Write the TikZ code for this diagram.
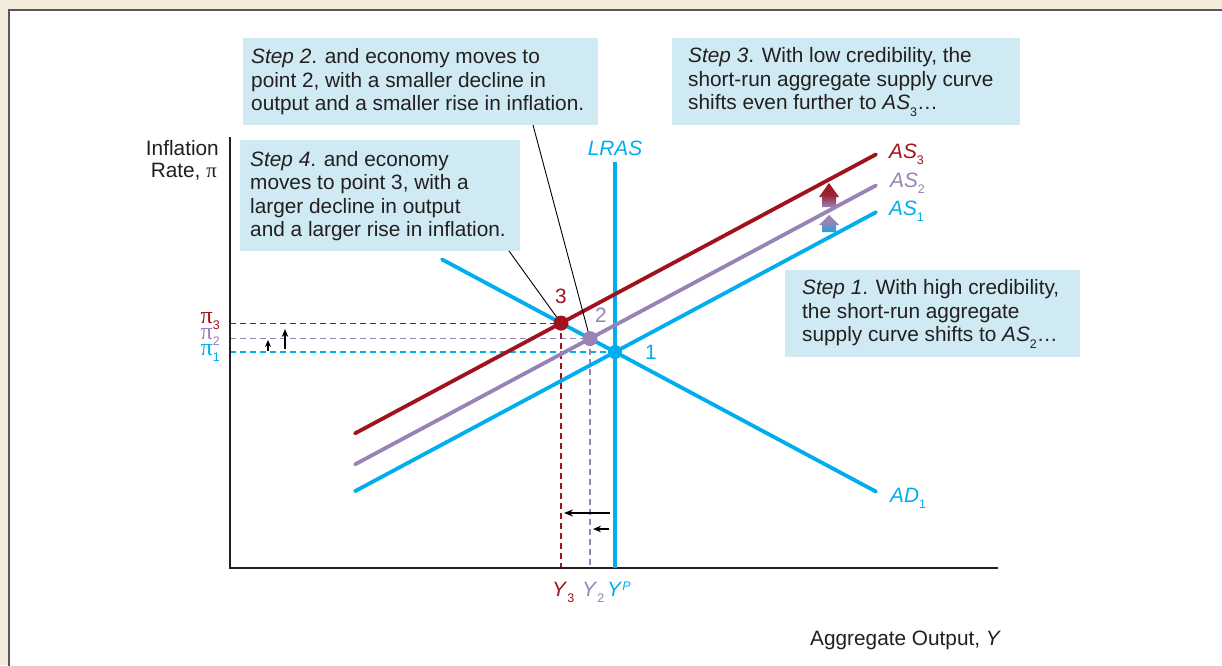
\documentclass[tikz,border=0pt]{standalone}
\usepackage{fontspec}
\setmainfont{Liberation Sans}
\newfontfamily\piserif{Liberation Serif}
\usetikzlibrary{arrows.meta}
\definecolor{cy}{HTML}{00AEEF}
\definecolor{dred}{HTML}{A0121C}
\definecolor{purp}{HTML}{9783B6}
\definecolor{boxblue}{HTML}{CFEAF2}
\definecolor{beige}{HTML}{F3EBDB}
\definecolor{framegray}{HTML}{5B5756}
\definecolor{txt}{HTML}{231F20}
\newcommand\sbs[1]{\raisebox{-6.5pt}{\fontsize{12.5}{12.5}\selectfont #1}}
\newcommand\sps[1]{\raisebox{6pt}{\fontsize{12.5}{12.5}\selectfont #1}}
\newcommand\gpi{{\piserif π}}
\newcommand\bigpi{{\piserif\fontsize{24}{24}\selectfont π}}
\tikzset{
  stepbox/.style={fill=boxblue, anchor=north west, inner sep=0pt},
  steptext/.style={anchor=west, align=left, inner sep=0pt, text=txt},
  curve/.style={line width=3.8pt, line cap=round},
  guide/.style={line width=1.2pt, dash pattern=on 6pt off 4pt},
  leader/.style={line width=0.9pt, draw=black},
  dot/.style={circle, inner sep=0pt, minimum size=15pt},
  shiftarrow/.style={-{Stealth[length=9pt,width=7pt]}, line width=1.6pt, draw=black},
  axisline/.style={line width=1.4pt, draw=txt},
  lab/.style={inner sep=0pt}
}
\begin{document}
\begin{tikzpicture}[x=1pt, y=-1pt, font=\fontsize{20.8}{23.5}\selectfont]
\useasboundingbox (0,0) rectangle (1222,665);
\clip (0,0) rectangle (1222,665);
% frame
\fill[beige] (0,0) rectangle (1222,665);
\fill[white] (8.5,10) rectangle (1240,680);
\draw[framegray, line width=2pt] (8.5,680) -- (8.5,10) -- (1240,10);

% boxes
\node[stepbox, minimum width=355pt, minimum height=87pt] (s2) at (243,38) {};
\node[steptext] (t2) at (251,82) {\textit{Step 2}. and economy moves to\\point 2, with a smaller decline in\\output and a smaller rise in inflation.};
\node[stepbox, minimum width=348pt, minimum height=87pt] (s3) at (672,38) {};
\node[steptext] (t3) at (688,82) {\textit{Step 3}. With low credibility, the\\short-run aggregate supply curve\\shifts even further to \textit{AS}\sbs{3}…};
\node[stepbox, minimum width=280pt, minimum height=111pt] (s4) at (240,140) {};
\node[steptext] (t4) at (250,196) {\textit{Step 4}. and economy\\moves to point 3, with a\\larger decline in output\\and a larger rise in inflation.};
\node[stepbox, minimum width=295pt, minimum height=87pt] (s1) at (785,270) {};
\node[steptext] (t1) at (802,314) {\textit{Step 1}. With high credibility,\\the short-run aggregate\\supply curve shifts to \textit{AS}\sbs{2}…};

% key points
\coordinate (p1) at (615,352);
\coordinate (p2) at (590,338.6);
\coordinate (p3) at (561,323.1);
\coordinate (yo) at (230,568);
\coordinate (ytop) at (230,137);
\coordinate (xend) at (998,568);

% guides
\draw[guide, dred] (230,323.1) -- (p3);
\draw[guide, purp] (230,338.6) -- (p2);
\draw[guide, cy] (230,352) -- (p1);
\draw[guide, dred] (p3) -- (561,568);
\draw[guide, purp] (p2) -- (590,568);

% axes
\draw[axisline] (ytop) -- (yo) -- (xend);

% LRAS
\coordinate (lrtop) at (615,162);
\coordinate (lrbot) at (615,568);
\draw[cy, line width=3.5pt] (lrtop) -- (lrbot);

% curves
\coordinate (ad1a) at (442,259.4);
\coordinate (ad1b) at (876,491.6);
\coordinate (as1a) at (355,491.2);
\coordinate (as1b) at (876,212.2);
\coordinate (as2a) at (355,464.4);
\coordinate (as2b) at (876,185.4);
\coordinate (as3a) at (355,433.4);
\coordinate (as3b) at (876,154.4);
\draw[curve, cy] (ad1a) -- (ad1b);
\draw[curve, cy] (as1a) -- (as1b);
\draw[curve, purp] (as2a) -- (as2b);
\draw[curve, dred] (as3a) -- (as3b);

% block arrows
\shade[top color=dred, bottom color=purp, middle color=dred!85!purp] (822,207) -- (822,197) -- (819,197) -- (829,183) -- (839,197) -- (836,197) -- (836,207) -- cycle;
\shade[top color=purp, bottom color=cy, middle color=purp] (822,232) -- (822,225) -- (819,225) -- (829,215) -- (839,225) -- (836,225) -- (836,232) -- cycle;

% leaders
\coordinate (l2) at (533,125);
\coordinate (l4) at (509,251);
\draw[leader] (l2) -- (p2);
\draw[leader] (l4) -- (p3);

% dots
\node[dot, fill=cy, minimum size=14pt] (d1) at (p1) {};
\node[dot, fill=purp] (d2) at (p2) {};
\node[dot, fill=dred] (d3) at (p3) {};
\node[lab, text=cy] (n1) at (651,352) {1};
\node[lab, text=purp] (n2) at (601,315) {2};
\node[lab, text=dred] (n3) at (561,296) {3};

% shift arrows
\coordinate (a1s) at (268,351);
\coordinate (a1e) at (268,340);
\coordinate (a2s) at (285,349);
\coordinate (a2e) at (285,329);
\draw[-{Stealth[length=7pt,width=6pt]}, line width=1.3pt] (a1s) -- (a1e);
\draw[-{Stealth[length=8pt,width=6.5pt]}, line width=1.5pt] (a2s) -- (a2e);
\coordinate (b1s) at (610,513);
\coordinate (b1e) at (564,513);
\coordinate (b2s) at (609,529);
\coordinate (b2e) at (593,529);
\draw[shiftarrow] (b1s) -- (b1e);
\draw[-{Stealth[length=8pt,width=6.5pt]}, line width=1.4pt] (b2s) -- (b2e);

% labels
\node[lab, anchor=base east, text=txt] (inf) at (219,155) {Inflation};
\node[lab, anchor=base east, text=txt] (rate) at (217,177) {Rate, \gpi};
\node[lab, anchor=base, text=cy] (lras) at (615,155) {\textit{LRAS}};
\node[lab, anchor=base west, text=dred] (las3) at (889,158) {\textit{AS}\sbs{3}};
\node[lab, anchor=base west, text=purp] (las2) at (890,187) {\textit{AS}\sbs{2}};
\node[lab, anchor=base west, text=cy] (las1) at (889,215) {\textit{AS}\sbs{1}};
\node[lab, anchor=base west, text=cy] (lad1) at (890,502) {\textit{AD}\sbs{1}};
\node[lab, anchor=base east, text=dred] (pi3) at (220,323) {\bigpi\sbs{3}};
\node[lab, anchor=base east, text=purp] (pi2) at (220,339) {\bigpi\sbs{2}};
\node[lab, anchor=base east, text=cy] (pi1) at (220,355) {\bigpi\sbs{1}};
\node[lab, anchor=base west, text=dred] (y3) at (552,596) {\textit{Y}\sbs{3}};
\node[lab, anchor=base west, text=purp] (y2) at (582,596) {\textit{Y}\sbs{2}};
\node[lab, anchor=base west, text=cy] (yp) at (607,596) {\textit{Y}\sps{\textit{P}}};
\node[lab, anchor=base west, text=txt] (xlab) at (810,645) {Aggregate Output, \textit{Y}};
\end{tikzpicture}
\end{document}
